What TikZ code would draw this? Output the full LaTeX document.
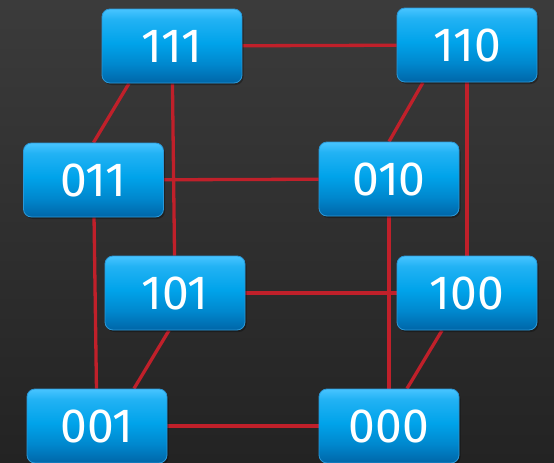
\documentclass[tikz,border=0pt]{standalone}
\usepackage{fontspec}
\setmainfont{Fira Sans}[Numbers={Proportional,Lining}]
\usetikzlibrary{shadows}
\definecolor{bgtop}{HTML}{3B3B3B}
\definecolor{bgbot}{HTML}{232323}
\definecolor{edgered}{HTML}{C0202A}
\definecolor{bxb}{HTML}{0066A8}
\definecolor{bxlm}{HTML}{0088CE}
\definecolor{bxm}{HTML}{00A3EA}
\definecolor{bxum}{HTML}{22B2F4}
\definecolor{bxt}{HTML}{48C4FF}
\definecolor{bxline}{HTML}{2A98D8}
\pgfdeclareverticalshading{boxshade}{100bp}{color(0bp)=(bxb); color(25bp)=(bxb); color(38bp)=(bxlm); color(52bp)=(bxm); color(68bp)=(bxum); color(75bp)=(bxt); color(100bp)=(bxt)}
\pgfdeclarelayer{bg}
\pgfdeclarelayer{edges}
\pgfsetlayers{bg,edges,main}
\tikzset{
  cubebox/.style={rectangle, rounded corners=8pt, minimum width=140pt, minimum height=74pt,
    inner sep=0pt, draw=bxline, line width=0.8pt, shading=boxshade, text=white,
    font=\fontsize{48}{52}\selectfont,
    drop shadow={opacity=0.3, fill=black, shadow xshift=1.5pt, shadow yshift=-2pt}},
  cubeedge/.style={draw=edgered, line width=3.3pt}
}
\begin{document}
\begin{tikzpicture}[x=1pt,y=-1pt]
\begin{pgfonlayer}{bg}
  \shade[top color=bgtop, bottom color=bgbot] (0,0) rectangle (554,463);
\end{pgfonlayer}
\useasboundingbox (0,0) rectangle (554,463);
\node[cubebox] (n111) at (172,46) {\raisebox{-2pt}{111}};
\node[cubebox] (n110) at (467,45) {\raisebox{-2pt}{110}};
\node[cubebox] (n011) at (93.5,180) {\raisebox{-2pt}{011}};
\node[cubebox] (n010) at (389,179) {\raisebox{-2pt}{010}};
\node[cubebox] (n101) at (175,293) {\raisebox{-2pt}{101}};
\node[cubebox] (n100) at (467,293) {\raisebox{-2pt}{100}};
\node[cubebox] (n001) at (97,426) {\raisebox{-2pt}{001}};
\node[cubebox] (n000) at (389,426) {\raisebox{-2pt}{000}};
\begin{pgfonlayer}{edges}
  \draw[cubeedge] (n111) -- (n110);
  \draw[cubeedge] (n011) -- (n010);
  \draw[cubeedge] (n101) -- (n100);
  \draw[cubeedge] (n001) -- (n000);
  \draw[cubeedge] (n111) -- (n101);
  \draw[cubeedge] (n110) -- (n100);
  \draw[cubeedge] (n011) -- (n001);
  \draw[cubeedge] (n010) -- (n000);
  \draw[cubeedge] ([xshift=-43pt]n111.south) -- (n011.north);
  \draw[cubeedge] ([xshift=-44pt]n110.south) -- (n010.north);
  \draw[cubeedge] ([xshift=-6pt]n101.south) -- ([xshift=37pt]n001.north);
  \draw[cubeedge] ([xshift=-25pt]n100.south) -- ([xshift=18pt]n000.north);
\end{pgfonlayer}
\end{tikzpicture}
\end{document}
